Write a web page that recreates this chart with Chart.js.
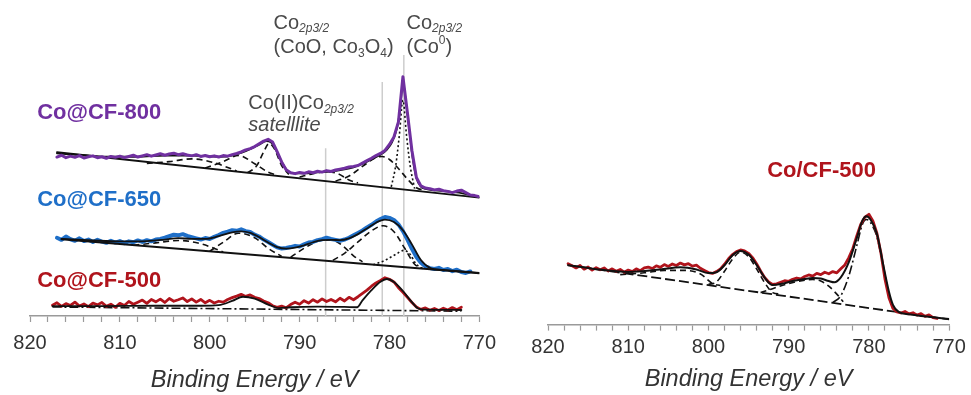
<!DOCTYPE html>
<html>
<head>
<meta charset="utf-8">
<script src="https://cdn.jsdelivr.net/npm/chart.js@4.4.1/dist/chart.umd.min.js"></script>
<style>
    html, body { margin: 0; padding: 0; background: #fff; }
    #wrap { position: relative; width: 971px; height: 395px; overflow: hidden; }
    #left { position: absolute; left: 0; top: 0; }
    #right { position: absolute; left: 505px; top: 0; }
</style>
</head>
<body>
<div id="wrap">
    <canvas id="left" width="505" height="395"></canvas>
    <canvas id="right" width="466" height="395"></canvas>
</div>
<script>
// ---- measured spectra, 0.5 eV steps (counts, offset for stacking) ----
const co800Start = 817;
const co800Data = [
    52.8, 53.4, 52.6, 53.1, 52.7, 53.3, 52.5, 52.9, 53.2, 52.6,
    52.9, 52.4, 53.0, 52.7, 53.1, 52.6, 53.0, 53.4, 52.8, 53.2,
    53.6, 53.1, 53.5, 53.9, 53.4, 53.8, 54.1, 53.6, 53.9, 53.5,
    53.2, 53.6, 53.0, 53.3, 52.9, 53.2, 52.8, 53.3, 53.1, 53.6,
    54.0, 54.5, 55.2, 55.6, 56.3, 57.2, 58.1, 58.7, 57.8, 54.6,
    51.2, 48.6, 47.6, 47.3, 47.7, 47.4, 47.9, 47.6, 48.1, 47.8,
    48.3, 48.0, 48.5, 48.8, 49.1, 49.5, 49.7, 50.0, 50.8, 51.6,
    52.4, 53.3, 54.0, 55.0, 57.0, 59.5, 64.5, 79.5, 67.5, 55.0,
    46.0, 43.2, 42.5, 42.3, 41.9, 42.1, 41.6, 41.4, 41.0, 41.5,
    41.8, 41.0, 40.2, 40.0, 39.6
];
const co650Start = 817;
const co650Data = [
    26.0, 25.3, 26.4, 25.5, 25.0, 25.8, 24.9, 25.4, 24.6, 25.3,
    24.7, 24.3, 25.0, 24.4, 24.9, 24.2, 24.8, 24.5, 25.1, 24.6,
    25.2, 24.8, 25.4, 25.6, 26.0, 26.5, 27.0, 26.8, 27.2, 26.6,
    26.2, 25.8, 25.4, 25.9, 25.6, 26.3, 26.9, 27.6, 28.0, 28.5,
    28.3, 28.8, 28.2, 27.9, 27.0, 26.4, 25.4, 24.6, 23.7, 22.8,
    22.4, 22.6, 22.9, 23.3, 23.1, 23.8, 24.4, 24.6, 25.2, 25.5,
    26.0, 25.6, 25.3, 25.0, 25.4, 26.0, 26.8, 27.6, 28.4, 29.4,
    30.3, 31.4, 32.2, 32.9, 32.6, 31.9, 30.4, 28.2, 25.4, 22.3,
    19.6, 17.7, 16.5, 15.9, 15.6, 16.0, 15.3, 15.6, 14.9, 15.4,
    14.6, 14.3, 14.8
];
const co500Start = 817.5;
const co500Data = [
    3.6, 4.4, 3.2, 4.1, 3.5, 4.6, 3.3, 4.0, 3.1, 4.3,
    3.7, 4.5, 3.2, 3.9, 2.9, 4.2, 3.5, 4.8, 3.9, 4.6,
    5.3, 4.2, 5.5, 4.7, 5.6, 4.5, 5.8, 4.9, 5.4, 6.0,
    4.8, 5.7, 4.6, 5.5, 4.4, 5.2, 4.3, 4.9, 4.6, 5.5,
    6.1, 6.6, 7.2, 6.5, 7.0, 6.2, 5.8, 5.0, 4.4, 3.4,
    2.9, 3.3, 2.7, 3.8, 4.6, 3.9, 5.1, 4.3, 5.4, 4.6,
    5.7, 4.8, 5.5, 4.7, 5.9, 5.0, 6.2, 5.4, 6.4, 7.5,
    8.6, 9.9, 11.0, 11.8, 12.7, 12.2, 11.3, 9.4, 7.9, 6.2,
    4.5, 3.0, 2.2, 2.7, 1.9, 2.5, 1.8, 2.6, 2.0, 2.8,
    2.1, 2.9
];
const cocfStart = 817.5;
const cocfData = [
    20.0, 19.3, 18.6, 19.4, 18.2, 18.9, 17.9, 18.7, 18.0, 18.6,
    17.6, 18.3, 17.5, 18.1, 17.2, 17.9, 17.4, 18.3, 17.7, 18.6,
    18.9, 18.4, 19.3, 18.8, 19.7, 19.1, 19.9, 19.4, 20.2, 19.6,
    20.0, 19.2, 19.5, 18.5, 17.8, 17.1, 16.8, 17.4, 18.3, 19.8,
    21.6, 23.0, 24.0, 24.5, 24.2, 23.4, 22.0, 20.0, 17.6, 15.5,
    14.0, 13.2, 13.4, 13.9, 14.4, 14.2, 14.9, 15.3, 15.0, 15.8,
    16.3, 15.9, 16.8, 16.4, 17.2, 16.7, 17.4, 17.0, 18.3, 19.6,
    22.0, 25.0, 29.2, 33.0, 35.3, 36.2, 34.0, 30.0, 23.5, 15.0,
    8.8, 5.3, 4.2, 3.8, 4.3, 3.5, 3.9, 3.1, 3.6, 2.7,
    3.2, 2.3, 2.0
];

// ---- fitted envelopes [eV, counts] ----
const co800Fit = [[817, 54.0], [814, 53.4], [811, 52.9], [808, 52.9], [805, 53.3], [802, 53.3], [799, 52.9], [797.5, 53.3], [796.5, 54.2], [795.5, 55.4], [794.5, 56.9], [793.7, 58.1], [793.2, 57.7], [792.6, 55.0], [792, 51.3], [791.4, 48.5], [790.8, 47.5], [789.5, 47.4], [788, 47.7], [786.5, 48.0], [785, 48.7], [784, 49.4], [783, 50.5], [782, 52.0], [781, 53.6], [780.3, 55.2], [779.7, 57.8], [779.2, 62.0], [778.8, 69.0], [778.5, 77.5], [778.2, 72.0], [777.8, 62.0], [777.4, 52.0], [777, 45.8], [776.5, 43.0], [776, 42.2], [774, 41.5], [772, 40.8], [770, 39.5]];
const co650Fit = [[816.5, 25.6], [813, 25.1], [810, 24.8], [807, 24.9], [805, 25.4], [803.5, 25.9], [802, 25.6], [800.5, 25.6], [799, 26.5], [797.5, 27.8], [796.5, 28.1], [795.5, 27.6], [794.5, 26.2], [793.5, 24.4], [792.5, 22.9], [791.5, 22.4], [790.5, 22.7], [789.5, 23.5], [788.5, 24.5], [787.5, 25.2], [786.5, 25.3], [785.5, 25.2], [784.5, 25.8], [783.5, 27.2], [782.5, 29.1], [781.5, 31.0], [780.5, 32.0], [779.5, 31.2], [778.5, 28.5], [777.5, 23.8], [776.5, 18.6], [775.5, 16.0], [774, 15.3], [772, 14.8], [770, 14.3]];
const co500Fit = [[817.5, 3.3], [812, 3.3], [806, 3.4], [801, 3.4], [799, 3.6], [797.5, 5.0], [796.3, 6.4], [795, 5.8], [793.5, 3.8], [792.3, 2.6], [791, 2.9], [788, 3.1], [785, 3.0], [783.6, 2.9], [783, 5.2], [782, 8.6], [781, 11.4], [780.3, 12.3], [779.5, 11.3], [778.5, 8.3], [777.5, 4.6], [776.8, 2.5], [776, 2.1], [772, 2.0]];
const cocfFit = [[817.5, 19.5], [814, 18.2], [810, 17.3], [806, 18.1], [803.5, 18.8], [801.5, 18.1], [800, 16.9], [799, 17.2], [798, 19.5], [797, 22.8], [796, 24.2], [795, 23.0], [794, 19.6], [793, 15.4], [792, 13.0], [791, 13.3], [789.5, 14.3], [788, 15.0], [787, 15.3], [786, 15.1], [785, 14.3], [784.3, 13.9], [783.5, 15.5], [782.5, 20.5], [781.5, 28.5], [780.8, 34.2], [780.3, 35.6], [779.8, 34.5], [779, 29.8], [778.2, 19.5], [777.5, 10.8], [777, 6.5], [776.3, 4.2], [775, 3.4], [772, 2.4], [770, 1.8]];

// ---- backgrounds ----
const co800Base = [[817, 54.4], [770, 39.3]];
const co650Base = [[816.5, 25.5], [770, 14.2]];
const co500Base = [[817.5, 3.0], [772, 1.6]];
const cocfBase = [[817.5, 19.5], [770, 1.7]];

// ---- fitted components ----
const co800Sat1 = [[807, 50.7], [804.5, 51.3], [802, 52.2], [799.5, 50.9], [797, 48.2]];
const co800Sat2 = [[800.5, 49.2], [798.5, 51.3], [796.8, 53.3], [795, 50.6], [793.5, 47.8], [792.5, 46.8]];
const co800Sat3 = [[795.8, 47.6], [794.8, 49.8], [794, 54.5], [793.4, 57.3], [792.8, 55.5], [792, 50.0], [791.2, 47.0]];
const co800Sat4 = [[790, 46.2], [788.5, 47.3], [787, 48.0], [785.7, 47.2], [784.5, 45.2], [783.5, 44.2]];
const co800Oxide = [[786, 44.8], [784.5, 46.5], [783, 49.7], [781.5, 52.6], [780.8, 53.0], [780, 52.0], [779, 49.0], [778, 45.5], [777, 42.6], [776, 41.7]];
const co800Metal = [[779.8, 42.9], [779.3, 50.0], [778.9, 60.0], [778.5, 71.7], [778.1, 60.0], [777.7, 50.0], [777.2, 42.3]];

const co650Sat1 = [[808.5, 23.5], [806, 24.3], [803.5, 25.1], [801, 24.0], [798.5, 21.3]];
const co650Sat2 = [[800, 21.5], [798.5, 24.5], [796.8, 27.5], [795, 26.0], [793.5, 22.5], [792, 19.8]];
const co650Sat3 = [[791, 19.5], [789.5, 22.5], [788, 24.8], [787, 25.3], [786, 24.9], [785, 22.8], [784, 20.0], [783, 18.0]];
const co650Oxide = [[786.3, 18.5], [785, 20.8], [783.5, 24.6], [782, 28.3], [780.7, 30.0], [779.5, 28.0], [778.3, 22.5], [777.2, 17.2], [776.3, 15.8]];
const co650Metal = [[781.8, 17.0], [780.5, 18.5], [779.3, 20.5], [778.4, 21.8], [777.7, 20.5], [777.1, 17.5], [776.5, 15.9]];

const cocfSat1 = [[811, 16.4], [808, 17.0], [805.5, 17.8], [803, 17.8], [801, 16.6], [799.5, 13.5], [798.5, 12.8]];
const cocfSat2 = [[800, 13.2], [799, 14.0], [798, 17.5], [797, 21.5], [796, 23.8], [795, 22.3], [794, 18.3], [793, 13.8], [792, 10.5], [791, 10.0]];
const cocfSat3 = [[793.5, 10.5], [792, 11.8], [790, 13.5], [788, 14.6], [787, 14.8], [786, 14.3], [785, 12.6], [784, 10.0], [783.2, 7.5]];
const cocfMain = [[784.5, 7.2], [783.5, 9.5], [782.5, 16.0], [781.5, 26.0], [780.8, 33.0], [780.3, 34.5], [779.8, 33.5], [779, 28.8], [778.2, 18.8], [777.5, 10.0], [777, 5.8], [776.5, 4.3]];

// reference positions of the Co 2p3/2 lines (eV) and how high they reach
const refEnergies = [787.1, 780.8, 778.4];
const refTops = [55.7, 77.7, 86.7];

const FONT = "'Liberation Sans', Arial, Helvetica, sans-serif";
const PURPLE = '#7030a0', BLUE = '#1f6fc8', RED = '#b0141c', GREY = '#4a4a4a';
const DASH = [6, 4], DOT = [2, 2.5], DASHDOT = [9, 3, 2, 3];

function onGrid(start, values) {
    return values.map((v, i) => ({x: start - i * 0.5, y: v}));
}

function pts(pairs) {
    return pairs.map(p => ({x: p[0], y: p[1]}));
}

function line(data, color, width, extra) {
    return Object.assign({
        data: data, showLine: true, borderColor: color, backgroundColor: color,
        borderWidth: width, borderJoinStyle: 'round', borderCapStyle: 'round',
        pointRadius: 0, pointHoverRadius: 0, fill: false, tension: 0
    }, extra || {});
}

function comp(pairs, dash) {
    return line(pts(pairs), '#111', 1.6, {borderDash: dash, borderCapStyle: 'butt', tension: 0.4, cubicInterpolationMode: 'monotone', order: 3});
}

function fontOf(p, size) {
    let s = (p.sub || p.sup) ? Math.round(size * 0.62) : size;
    return (p.italic ? 'italic ' : '') + (p.bold ? 'bold ' : '') + s + 'px ' + FONT;
}

// text with sub/superscripts, placed at data coordinates
const notesPlugin = {
    id: 'notes',
    afterDraw(chart, args, opts) {
        const {ctx, scales: {x, y}} = chart;
        ctx.save();
        ctx.textBaseline = 'middle';
        ctx.textAlign = 'left';
        (opts.items || []).forEach(item => {
            let px = x.getPixelForValue(item.e);
            let py = y.getPixelForValue(item.v);
            let w = 0;
            item.parts.forEach(p => {
                ctx.font = fontOf(p, item.size);
                w += ctx.measureText(p.t).width;
            });
            if (item.align === 'center') px -= w / 2;
            ctx.fillStyle = item.color;
            item.parts.forEach(p => {
                ctx.font = fontOf(p, item.size);
                let dy = p.sub ? item.size * 0.3 : (p.sup ? -item.size * 0.32 : 0);
                ctx.fillText(p.t, px, py + dy);
                px += ctx.measureText(p.t).width;
            });
        });
        ctx.restore();
    }
};

function xScale(labelPad, titlePad) {
    return {
        type: 'linear', reverse: true, min: 770, max: 820,
        ticks: {
            stepSize: 2, autoSkip: false, maxRotation: 0, padding: labelPad, color: '#333',
            font: {family: FONT, size: 20},
            callback: v => (v % 10 === 0 ? String(v) : '')
        },
        grid: {drawOnChartArea: false, drawTicks: true, tickLength: 6, color: '#9a9a9a', tickWidth: 1.2},
        border: {display: true, color: '#9a9a9a', width: 1.5},
        title: {
            display: true, text: 'Binding Energy / eV', color: '#333',
            font: {family: FONT, size: 23.5, style: 'italic'}, padding: titlePad
        }
    };
}

function baseOptions(padding, labelPad, titlePad, notes) {
    return {
        responsive: false, animation: false, devicePixelRatio: 1,
        layout: {padding: padding},
        plugins: {legend: {display: false}, tooltip: {enabled: false}, notes: {items: notes}},
        scales: {
            x: xScale(labelPad, titlePad),
            y: {type: 'linear', display: false, min: 0, max: 100}
        }
    };
}

const sub = t => ({t: t, sub: true, italic: true});
const leftNotes = [
    {e: 819.2, v: 67.3, size: 22, color: PURPLE, parts: [{t: 'Co@CF-800', bold: true}]},
    {e: 819.2, v: 38.7, size: 22, color: BLUE, parts: [{t: 'Co@CF-650', bold: true}]},
    {e: 819.2, v: 11.7, size: 22, color: RED, parts: [{t: 'Co@CF-500', bold: true}]},
    {e: 792.9, v: 97.3, size: 20, color: GREY, parts: [{t: 'Co'}, sub('2p3/2')]},
    {e: 792.9, v: 89.3, size: 20, color: GREY, parts: [{t: '(CoO, Co'}, {t: '3', sub: true}, {t: 'O'}, {t: '4', sub: true}, {t: ')'}]},
    {e: 778.1, v: 97.3, size: 20, color: GREY, parts: [{t: 'Co'}, sub('2p3/2')]},
    {e: 778.1, v: 89.3, size: 20, color: GREY, parts: [{t: '(Co'}, {t: '0', sup: true}, {t: ')'}]},
    {e: 795.7, v: 70.7, size: 20, color: GREY, parts: [{t: 'Co(II)Co'}, sub('2p3/2')]},
    {e: 795.7, v: 63.3, size: 20, color: GREY, parts: [{t: 'satelllite', italic: true}]}
];
const rightNotes = [
    {e: 785.9, v: 50.3, size: 22, color: RED, align: 'center', parts: [{t: 'Co/CF-500', bold: true}]}
];

const smooth = {tension: 0.4, cubicInterpolationMode: 'monotone'};

let leftSets = refEnergies.map((e, i) => line(pts([[e, 0], [e, refTops[i]]]), '#cdcdcd', 1.5, {order: 9, borderCapStyle: 'butt'}));
leftSets = leftSets.concat([
    // Co@CF-800
    line(onGrid(co800Start, co800Data), PURPLE, 3, {order: 1}),
    line(pts(co800Fit), '#111', 1.8, Object.assign({order: 2}, smooth)),
    line(pts(co800Base), '#111', 1.8, {order: 2}),
    comp(co800Sat1, DASH), comp(co800Sat2, DASH), comp(co800Sat3, DASH), comp(co800Sat4, DASH),
    comp(co800Oxide, DASH), comp(co800Metal, DOT),
    // Co@CF-650
    line(onGrid(co650Start, co650Data), BLUE, 4, {order: 2}),
    line(pts(co650Fit), '#111', 1.8, Object.assign({order: 1}, smooth)),
    line(pts(co650Base), '#111', 1.8, {order: 1}),
    comp(co650Sat1, DASH), comp(co650Sat2, DASH), comp(co650Sat3, DASH),
    comp(co650Oxide, DASH), comp(co650Metal, DOT),
    // Co@CF-500
    line(onGrid(co500Start, co500Data), RED, 2.8, {order: 2}),
    line(pts(co500Fit), '#111', 1.8, Object.assign({order: 1}, smooth)),
    line(pts(co500Base), '#111', 1.6, {order: 3, borderDash: DASHDOT, borderCapStyle: 'butt'})
]);

let rightSets = [
    line(onGrid(cocfStart, cocfData), RED, 2.8, {order: 2}),
    line(pts(cocfFit), '#111', 2, Object.assign({order: 1}, smooth)),
    line(pts(cocfBase), '#111', 1.8, {order: 3, borderDash: [10, 4], borderCapStyle: 'butt'}),
    comp(cocfSat1, DASH), comp(cocfSat2, DASH), comp(cocfSat3, DASH), comp(cocfMain, DASHDOT)
];

new Chart(document.getElementById('left').getContext('2d'), {
    type: 'scatter',
    data: {datasets: leftSets},
    options: baseOptions({left: 30, right: 23, top: 15, bottom: 0}, 9, {top: 2.8, bottom: 0}, leftNotes),
    plugins: [notesPlugin]
});

new Chart(document.getElementById('right').getContext('2d'), {
    type: 'scatter',
    data: {datasets: rightSets},
    options: baseOptions({left: 43, right: 18, top: 20, bottom: 0}, 5.2, {top: 0, bottom: 1.8}, rightNotes),
    plugins: [notesPlugin]
});
</script>
</body>
</html>
